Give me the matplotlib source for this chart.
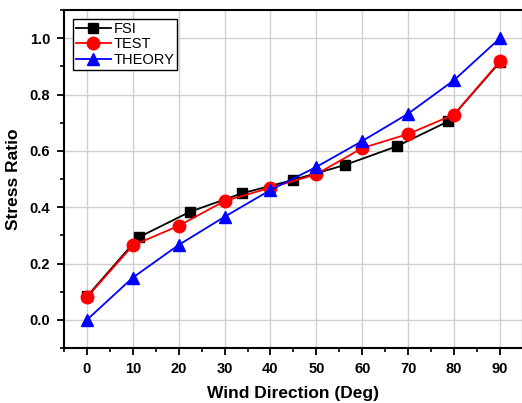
import matplotlib
matplotlib.use("Agg")
import matplotlib.pyplot as plt
from matplotlib.ticker import MultipleLocator

plt.rcParams['font.family'] = ['Liberation Sans', 'DejaVu Sans']

# FSI samples every 11.25 deg, test and theory every 10 deg
fsi_x = [0, 11.25, 22.5, 33.75, 45, 56.25, 67.5, 78.75, 90]
fsi_y = [0.083, 0.293, 0.384, 0.449, 0.497, 0.55, 0.616, 0.705, 0.915]

test_x = [0, 10, 20, 30, 40, 50, 60, 70, 80, 90]
test_y = [0.08, 0.264, 0.334, 0.422, 0.469, 0.517, 0.61, 0.66, 0.729, 0.918]

theory_x = [0, 10, 20, 30, 40, 50, 60, 70, 80, 90]
theory_y = [0.0, 0.15, 0.266, 0.366, 0.461, 0.543, 0.635, 0.732, 0.851, 1.0]

fig = plt.figure(figsize=(5.22, 4.03), dpi=100)
ax = fig.add_axes([0.1226, 0.1365, 0.879, 0.8385])

ax.plot(fsi_x, fsi_y, color='black', lw=1.3, marker='s', markersize=7, label='FSI')
ax.plot(test_x, test_y, color='red', lw=1.3, marker='o', markersize=9, label='TEST')
ax.plot(theory_x, theory_y, color='blue', lw=1.3, marker='^', markersize=9, label='THEORY')

ax.set_xlim(-5, 95)
ax.set_ylim(-0.1, 1.1)
ax.xaxis.set_major_locator(MultipleLocator(10))
ax.xaxis.set_minor_locator(MultipleLocator(5))
ax.yaxis.set_major_locator(MultipleLocator(0.2))
ax.yaxis.set_minor_locator(MultipleLocator(0.1))
ax.yaxis.set_major_formatter(matplotlib.ticker.FormatStrFormatter('%.1f'))

ax.grid(True, which='major', color='#d0d0d0', lw=1.0)
ax.set_axisbelow(True)
for s in ax.spines.values():
    s.set_linewidth(1.5)

ax.tick_params(which='major', direction='out', length=5, width=1.3, pad=5,
               labelsize=10.5)
ax.tick_params(which='minor', direction='out', length=3, width=1.2)
for lbl in ax.get_xticklabels() + ax.get_yticklabels():
    lbl.set_fontweight('bold')

ax.set_xlabel('Wind Direction (Deg)', fontsize=12.5, fontweight='bold', labelpad=7)
ax.set_ylabel('Stress Ratio', fontsize=12.5, fontweight='bold', labelpad=6)

leg = ax.legend(loc='upper left', fontsize=10.5, fancybox=False, edgecolor='black',
                framealpha=1, borderpad=0.2, labelspacing=0.1, handlelength=2.4,
                handletextpad=0.2, borderaxespad=0.6, bbox_to_anchor=(0.0, 1.0))
leg.get_frame().set_linewidth(1.0)

fig.savefig('out.png', dpi=100)
